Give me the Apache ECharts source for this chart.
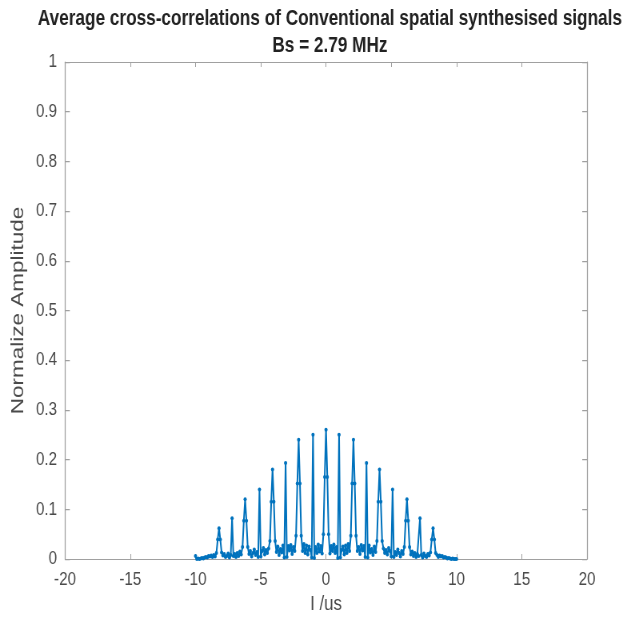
<!DOCTYPE html>
<html>
<head>
<meta charset="utf-8">
<script src="https://cdn.jsdelivr.net/npm/echarts@6/dist/echarts.min.js"></script>
<style>
  html, body { margin: 0; padding: 0; background: #fff; overflow: hidden; }
  #frame { width: 639px; height: 620px; overflow: hidden; }
  /* the figure is laid out wider and compressed horizontally, giving the condensed lettering */
  #chart { width: 799px; height: 620px; transform: scaleX(0.79975); transform-origin: 0 0; }
</style>
</head>
<body>
<div id="frame"><div id="chart"></div></div>
<script>
// Lag grid of the averaged cross-correlation (us), sampled every 0.1 us from -10 to 10
const lagStart = -10;
const lagStep = 0.1;

// Normalised amplitude, one row per microsecond of lag
const amplitude = [
  // -10.0 .. -9.1
  0.006, 0.000, 0.001, 0.000, 0.001, 0.002, 0.001, 0.003, 0.004, 0.003,
  // -9.0 .. -8.1
  0.006, 0.005, 0.007, 0.004, 0.008, 0.005, 0.012, 0.039, 0.062, 0.039,
  // -8.0 .. -7.1
  0.013, 0.007, 0.010, 0.004, 0.006, 0.011, 0.003, 0.008, 0.082, 0.006,
  // -7.0 .. -6.1
  0.010, 0.004, 0.012, 0.006, 0.015, 0.009, 0.024, 0.077, 0.120, 0.077,
  // -6.0 .. -5.1
  0.024, 0.010, 0.016, 0.005, 0.012, 0.019, 0.008, 0.014, 0.004, 0.140,
  // -5.0 .. -4.1
  0.005, 0.016, 0.022, 0.009, 0.018, 0.012, 0.021, 0.036, 0.115, 0.180,
  // -4.0 .. -3.1
  0.115, 0.036, 0.014, 0.025, 0.008, 0.020, 0.013, 0.027, 0.003, 0.193,
  // -3.0 .. -2.1
  0.004, 0.026, 0.017, 0.028, 0.010, 0.024, 0.016, 0.047, 0.152, 0.240,
  // -2.0 .. -1.1
  0.152, 0.047, 0.016, 0.030, 0.012, 0.027, 0.009, 0.025, 0.018, 0.003,
  // -1.0 .. -0.1
  0.250, 0.002, 0.024, 0.012, 0.029, 0.015, 0.026, 0.011, 0.050, 0.165,
  // 0.0 .. 0.9
  0.260, 0.165, 0.050, 0.011, 0.026, 0.016, 0.029, 0.012, 0.024, 0.002,
  // 1.0 .. 1.9
  0.250, 0.003, 0.018, 0.025, 0.009, 0.027, 0.012, 0.030, 0.016, 0.047,
  // 2.0 .. 2.9
  0.152, 0.240, 0.152, 0.047, 0.016, 0.024, 0.010, 0.028, 0.017, 0.026,
  // 3.0 .. 3.9
  0.004, 0.193, 0.003, 0.027, 0.013, 0.020, 0.008, 0.025, 0.014, 0.036,
  // 4.0 .. 4.9
  0.115, 0.180, 0.115, 0.036, 0.021, 0.012, 0.018, 0.009, 0.022, 0.016,
  // 5.0 .. 5.9
  0.005, 0.140, 0.004, 0.014, 0.008, 0.019, 0.012, 0.005, 0.016, 0.010,
  // 6.0 .. 6.9
  0.024, 0.077, 0.120, 0.077, 0.024, 0.009, 0.015, 0.006, 0.012, 0.004,
  // 7.0 .. 7.9
  0.010, 0.006, 0.082, 0.008, 0.003, 0.011, 0.006, 0.004, 0.010, 0.007,
  // 8.0 .. 8.9
  0.013, 0.039, 0.062, 0.039, 0.012, 0.008, 0.004, 0.007, 0.005, 0.006,
  // 9.0 .. 9.9
  0.003, 0.004, 0.003, 0.001, 0.002, 0.001, 0.000, 0.001, 0.000, 0.000,
  // 10.0
  0.000
];

const xTicks = [-20, -15, -10, -5, 0, 5, 10, 15, 20];
const yTicks = [0, 0.1, 0.2, 0.3, 0.4, 0.5, 0.6, 0.7, 0.8, 0.9, 1];

const titleLine1 = 'Average cross-correlations of Conventional spatial synthesised signals';
const titleLine2 = 'Bs = 2.79 MHz';
const xLabel = 'I /us';
const yLabel = 'Normalize Amplitude';

const points = amplitude.map((v, i) => [+(lagStart + i * lagStep).toFixed(1), v]);

const axisGray = '#a0a0a0';
const labelGray = '#4a4a4a';
const font = '"Liberation Sans", Arial, Helvetica, sans-serif';

const chart = echarts.init(document.getElementById('chart'), null, { renderer: 'canvas' });

const boxAxisX = (position, showLabels) => ({
  type: 'value',
  position: position,
  min: xTicks[0],
  max: xTicks[xTicks.length - 1],
  interval: 5,
  axisLine: { show: true, onZero: false, lineStyle: { color: axisGray, width: 1 } },
  axisTick: { show: true, inside: true, length: 5, lineStyle: { color: axisGray } },
  axisLabel: {
    show: showLabels, color: labelGray, fontSize: 19, fontFamily: font, margin: 11,
    formatter: v => String(v)
  },
  splitLine: { show: false }
});

const boxAxisY = (position, showLabels) => ({
  type: 'value',
  position: position,
  min: yTicks[0],
  max: yTicks[yTicks.length - 1],
  interval: 0.1,
  axisLine: { show: true, onZero: false, lineStyle: { color: axisGray, width: 1.25 } },
  axisTick: { show: true, inside: true, length: 6, lineStyle: { color: axisGray, width: 1.25 } },
  axisLabel: {
    show: showLabels, color: labelGray, fontSize: 19, fontFamily: font, margin: 10,
    formatter: v => String(Math.round(v * 10) / 10)
  },
  splitLine: { show: false }
});

const xBottom = boxAxisX('bottom', true);
xBottom.name = xLabel;
xBottom.nameLocation = 'middle';
xBottom.nameGap = 35;
xBottom.nameTextStyle = { color: labelGray, fontSize: 21, fontFamily: font };

const yLeft = boxAxisY('left', true);
yLeft.name = yLabel;
yLeft.nameLocation = 'middle';
yLeft.nameGap = 44;
yLeft.nameTextStyle = { color: labelGray, fontSize: 22.5, fontFamily: font };

chart.setOption({
  animation: false,
  backgroundColor: '#ffffff',
  title: {
    text: titleLine1 + '\n' + titleLine2,
    left: 407.5,
    textAlign: 'center',
    top: 0.5,
    textStyle: {
      color: '#222222', fontSize: 21.5, fontWeight: 'bold', fontFamily: font, lineHeight: 27
    }
  },
  grid: { left: 81.3, right: 65, top: 62, bottom: 59, containLabel: false },
  xAxis: [xBottom, boxAxisX('top', false)],
  yAxis: [yLeft, boxAxisY('right', false)],
  series: [{
    type: 'line',
    xAxisIndex: 0,
    yAxisIndex: 0,
    data: points,
    showSymbol: true,
    symbol: 'circle',
    symbolSize: 4,
    lineStyle: { color: '#0072BD', width: 2 },
    itemStyle: { color: '#0072BD' },
    clip: false
  }]
});
</script>
</body>
</html>
